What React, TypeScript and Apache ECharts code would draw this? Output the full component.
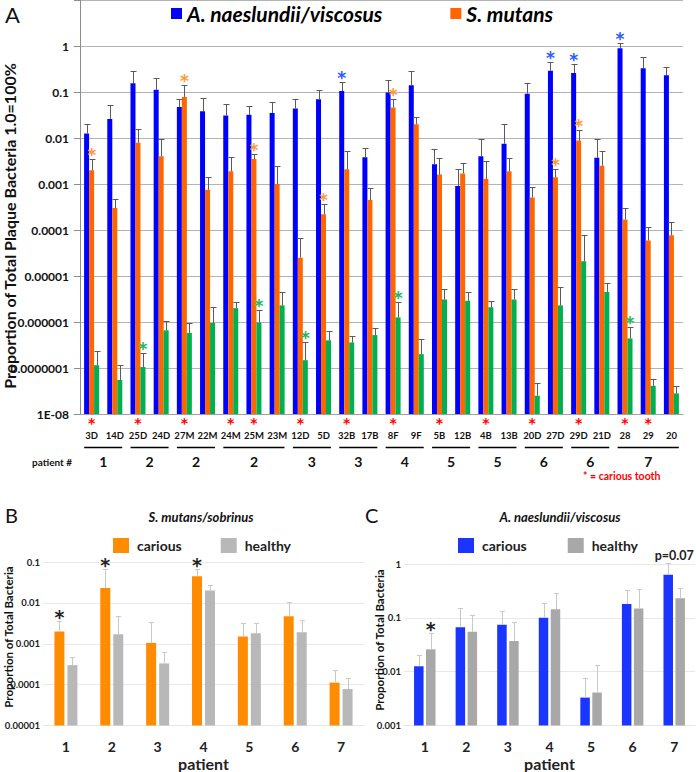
import React, { useEffect, useRef } from 'react';
import * as echarts from 'echarts';

const FONT = 'Lato, "Open Sans", "DejaVu Sans", sans-serif';
const STAR_FONT = '"DejaVu Sans", sans-serif';

// ---------- Panel A ----------
const teeth = ['3D', '14D', '25D', '24D', '27M', '22M', '24M', '25M', '23M', '12D', '5D', '32B', '17B', '8F', '9F', '5B', '12B', '4B', '13B', '20D', '27D', '29D', '21D', '28', '29', '20'];
const cariousTeeth = ['3D', '25D', '27M', '24M', '25M', '12D', '32B', '8F', '5B', '4B', '20D', '29D', '28', '29'];
const naeslundii = [0.0126, 0.026, 0.155, 0.112, 0.047, 0.038, 0.031, 0.032, 0.035, 0.044, 0.07, 0.105, 0.0038, 0.097, 0.14, 0.0027, 0.00091, 0.004, 0.0075, 0.092, 0.29, 0.26, 0.0037, 0.89, 0.33, 0.23];
const naeslundiiErr = [0.0205, 0.051, 0.29, 0.2, 0.072, 0.074, 0.054, 0.05, 0.062, 0.069, 0.108, 0.165, 0.0062, 0.186, 0.28, 0.0057, 0.0021, 0.0097, 0.0205, 0.155, 0.46, 0.41, 0.0094, 1.17, 0.57, 0.35];
const mutans = [0.002, 0.0003, 0.0079, 0.004, 0.078, 0.00075, 0.0019, 0.0035, 0.001, 0.000025, 0.00022, 0.0021, 0.00045, 0.046, 0.02, 0.0016, 0.0017, 0.0013, 0.0019, 0.00051, 0.0014, 0.0088, 0.0025, 0.00017, 0.000059, 0.000077];
const mutansErr = [0.0035, 0.00048, 0.016, 0.0094, 0.143, 0.0014, 0.0038, 0.0045, 0.0025, 0.000068, 0.00037, 0.0052, 0.00081, 0.069, 0.028, 0.0036, 0.0028, 0.0031, 0.0036, 0.00088, 0.0021, 0.0146, 0.0051, 0.0003, 0.000115, 0.000146];
const sobrinus = [1.15e-7, 5.5e-8, 1.05e-7, 6.6e-7, 5.8e-7, 9.5e-7, 2.0e-6, 9.7e-7, 2.3e-6, 1.48e-7, 4.0e-7, 3.6e-7, 5.2e-7, 1.26e-6, 2.0e-7, 3.1e-6, 2.9e-6, 2.1e-6, 3.1e-6, 2.5e-8, 2.3e-6, 2.1e-5, 4.5e-6, 4.4e-7, 4.1e-8, 2.8e-8];
const sobrinusErr = [2.4e-7, 1.15e-7, 2.1e-7, 1.07e-6, 9.5e-7, 2.1e-6, 2.7e-6, 1.8e-6, 4.4e-6, 3.6e-7, 6.3e-7, 5.0e-7, 7.5e-7, 2.7e-6, 4.3e-7, 5.1e-6, 4.6e-6, 2.8e-6, 5.1e-6, 4.7e-8, 5.9e-6, 7.9e-5, 7.1e-6, 7.6e-7, 5.9e-8, 4.0e-8];
const starsNaeslundii = ['32B', '27D', '29D', '28'];
const starsMutans = ['3D', '27M', '25M', '5D', '8F', '27D', '29D'];
const starsSobrinus = ['25D', '25M', '12D', '8F', '28'];
const groupPatients = ['1', '2', '2', '2', '3', '3', '4', '5', '5', '6', '6', '7'];
const groupFirst = ['3D', '25D', '27M', '24M', '12D', '32B', '8F', '5B', '4B', '20D', '29D', '28'];
const groupLast = ['14D', '24D', '22M', '23M', '5D', '17B', '9F', '12B', '13B', '27D', '21D', '20'];

// ---------- Panel B ----------
const patients = ['1', '2', '3', '4', '5', '6', '7'];
const mutansCarious = [0.002, 0.023, 0.00105, 0.045, 0.0015, 0.0047, 0.000112];
const mutansCariousErr = [0.0036, 0.069, 0.0034, 0.069, 0.0032, 0.0104, 0.00023];
const mutansHealthy = [0.0003, 0.0017, 0.00033, 0.02, 0.0018, 0.0019, 0.000078];
const mutansHealthyErr = [0.00048, 0.0047, 0.00062, 0.028, 0.0032, 0.0039, 0.000149];
const starsMutansCarious = ['1', '2', '4'];

// ---------- Panel C ----------
const naesCarious = [0.0126, 0.067, 0.074, 0.1, 0.0033, 0.18, 0.63];
const naesCariousErr = [0.0206, 0.151, 0.134, 0.19, 0.0076, 0.33, 1.03];
const naesHealthy = [0.026, 0.055, 0.037, 0.145, 0.0041, 0.149, 0.23];
const naesHealthyErr = [0.052, 0.114, 0.082, 0.29, 0.0135, 0.34, 0.36];
const starsNaesHealthy = ['1'];
const pValuePatient = '7';
const pValueText = 'p=0.07';

const fmtLog = (v: number) => {
  const e = Math.round(Math.log10(v));
  if (e > 0) return '';
  if (e === 0) return '1';
  if (e <= -8) return '1E-0' + -e;
  return Math.pow(10, e).toFixed(-e);
};

function errorSeries(axis: number, vals: number[], errs: number[], offset: number, color: string, cap: number) {
  return {
    type: 'custom',
    xAxisIndex: axis,
    yAxisIndex: axis,
    silent: true,
    clip: false,
    z: 3,
    data: vals.map((v, i) => [i, v, errs[i]]),
    renderItem: (params: any, api: any) => {
      const base = api.coord([api.value(0), api.value(1)]);
      const top = api.coord([api.value(0), api.value(2)]);
      const x = Math.round(base[0] + offset) + 0.5;
      const yt = Math.round(top[1]) + 0.5;
      return {
        type: 'group',
        children: [
          { type: 'line', shape: { x1: x, y1: base[1], x2: x, y2: yt }, style: { stroke: color, lineWidth: 1 } },
          { type: 'line', shape: { x1: x - cap, y1: yt, x2: x + cap, y2: yt }, style: { stroke: color, lineWidth: 1 } },
        ],
      };
    },
  };
}

function starSeries(axis: number, cats: string[], catList: string[], tops: number[], offset: number, color: string, text: string, fontSize: number, dy: number, family = STAR_FONT) {
  return {
    type: 'custom',
    xAxisIndex: axis,
    yAxisIndex: axis,
    silent: true,
    clip: false,
    z: 4,
    data: cats.map((c) => {
      const i = catList.indexOf(c);
      return [i, tops[i]];
    }),
    renderItem: (params: any, api: any) => {
      const p = api.coord([api.value(0), api.value(1)]);
      return {
        type: 'text',
        x: p[0] + offset,
        y: p[1] + dy,
        style: {
          text,
          fill: color,
          fontSize,
          fontWeight: 'bold',
          fontFamily: family,
          align: 'center',
          verticalAlign: 'middle',
        },
      };
    },
  };
}

const maxOf = (a: number[], b: number[]) => a.map((v, i) => Math.max(v, b[i]));

function buildOption() {
  const yMinA = 1e-8;
  const titleStyle = { fontFamily: FONT, fontWeight: 'bold', fill: '#111' };
  return {
    animation: false,
    textStyle: { fontFamily: FONT },
    grid: [
      { left: 80, right: 13, top: -9, bottom: 358 },
      { left: 43, right: 332, top: 562, bottom: 45 },
      { left: 404, right: 1, top: 564, bottom: 45 },
    ],
    legend: [
      {
        data: ['A. naeslundii/viscosus', 'S. mutans'],
        left: 171, top: 3, padding: 0, icon: 'rect', itemWidth: 11, itemHeight: 11, itemGap: 68,
        selectedMode: false,
        textStyle: { fontSize: 21, fontWeight: 'bold', fontStyle: 'italic', color: '#000', fontFamily: FONT },
      },
      {
        data: ['carious|B', 'healthy|B'],
        left: 113, top: 538, padding: 0, icon: 'rect', itemWidth: 16, itemHeight: 15, itemGap: 39,
        selectedMode: false,
        formatter: (n: string) => n.split('|')[0],
        textStyle: { fontSize: 14, fontWeight: 'bold', color: '#222', fontFamily: FONT, padding: [0, 0, 0, 3] },
      },
      {
        data: ['carious|C', 'healthy|C'],
        left: 458, top: 538, padding: 0, icon: 'rect', itemWidth: 16, itemHeight: 15, itemGap: 41,
        selectedMode: false,
        formatter: (n: string) => n.split('|')[0],
        textStyle: { fontSize: 14, fontWeight: 'bold', color: '#222', fontFamily: FONT, padding: [0, 0, 0, 3] },
      },
    ],
    xAxis: [
      {
        gridIndex: 0, type: 'category', data: teeth,
        axisLine: { lineStyle: { color: '#a0a0a0' } },
        axisTick: { show: false },
        axisLabel: { interval: 0, margin: 16, fontSize: 9.5, fontWeight: 'bold', color: '#111' },
      },
      {
        gridIndex: 1, type: 'category', data: patients,
        axisLine: { show: true, lineStyle: { color: '#e6e6e6' } },
        axisTick: { show: false },
        axisLabel: { fontSize: 14, fontWeight: 'bold', color: '#222', margin: 14 },
        name: 'patient', nameLocation: 'middle', nameGap: 29.5,
        nameTextStyle: { fontSize: 16, fontWeight: 'bold', color: '#222' },
      },
      {
        gridIndex: 2, type: 'category', data: patients,
        axisLine: { show: true, lineStyle: { color: '#e6e6e6' } },
        axisTick: { show: false },
        axisLabel: { fontSize: 14, fontWeight: 'bold', color: '#222', margin: 14 },
        name: 'patient', nameLocation: 'middle', nameGap: 29.5,
        nameTextStyle: { fontSize: 16, fontWeight: 'bold', color: '#222' },
      },
    ],
    yAxis: [
      {
        gridIndex: 0, type: 'log', logBase: 10, min: yMinA, max: 10, startValue: yMinA,
        axisLine: { show: true, lineStyle: { color: '#8c8c8c' } },
        axisTick: { show: true, length: 6, lineStyle: { color: '#8c8c8c' } },
        splitLine: { show: true, lineStyle: { color: '#b4b4b4' } },
        axisLabel: { formatter: fmtLog, fontSize: 12, fontWeight: 'bold', color: '#111', margin: 11 },
      },
      {
        gridIndex: 1, type: 'log', logBase: 10, min: 1e-5, max: 0.1, startValue: 1e-5,
        axisLine: { show: false }, axisTick: { show: false },
        splitLine: { show: true, lineStyle: { color: '#e8e8e8' } },
        axisLabel: { formatter: fmtLog, fontSize: 9.5, fontWeight: 'bold', color: '#222', margin: 3 },
      },
      {
        gridIndex: 2, type: 'log', logBase: 10, min: 0.001, max: 1, startValue: 0.001,
        axisLine: { show: false }, axisTick: { show: false },
        splitLine: { show: true, lineStyle: { color: '#e8e8e8' } },
        axisLabel: { formatter: fmtLog, fontSize: 9.5, fontWeight: 'bold', color: '#222', margin: 3 },
      },
    ],
    series: [
      { type: 'bar', name: 'A. naeslundii/viscosus', xAxisIndex: 0, yAxisIndex: 0, data: naeslundii, barWidth: 5, barGap: '0%', itemStyle: { color: '#0000ff' } },
      { type: 'bar', name: 'S. mutans', xAxisIndex: 0, yAxisIndex: 0, data: mutans, barWidth: 5, barGap: '0%', itemStyle: { color: '#ff6600' } },
      { type: 'bar', name: 'S. sobrinus', xAxisIndex: 0, yAxisIndex: 0, data: sobrinus, barWidth: 5, barGap: '0%', itemStyle: { color: '#00b050' } },
      errorSeries(0, naeslundii, naeslundiiErr, -5, '#5a5a5a', 3),
      errorSeries(0, mutans, mutansErr, 0, '#5a5a5a', 3),
      errorSeries(0, sobrinus, sobrinusErr, 5, '#5a5a5a', 3),
      starSeries(0, starsNaeslundii, teeth, naeslundiiErr, -5, '#2a5cff', '*', 17, -4),
      starSeries(0, starsMutans, teeth, mutansErr, 0, '#ff9a30', '*', 17, -4),
      starSeries(0, starsSobrinus, teeth, sobrinusErr, 5, '#22b85a', '*', 17, -4),
      // carious-tooth markers under the tooth labels
      starSeries(0, cariousTeeth, teeth, teeth.map(() => yMinA), 0, '#ff0000', '*', 14, 9),
      {
        type: 'custom', xAxisIndex: 0, yAxisIndex: 0, silent: true, clip: false, z: 5,
        data: groupPatients.map((p, i) => [teeth.indexOf(groupFirst[i]), teeth.indexOf(groupLast[i])]),
        renderItem: (params: any, api: any) => {
          const a = api.coord([api.value(0), yMinA]);
          const b = api.coord([api.value(1), yMinA]);
          const band = api.coord([1, yMinA])[0] - api.coord([0, yMinA])[0];
          const half = band * 0.32;
          const y = a[1] + 33.5;
          return {
            type: 'group',
            children: [
              { type: 'line', shape: { x1: a[0] - half, y1: y, x2: b[0] + half, y2: y }, style: { stroke: '#000', lineWidth: 1.5 } },
              {
                type: 'text', x: (a[0] + b[0]) / 2, y: y + 13.5,
                style: { text: groupPatients[params.dataIndex], fill: '#111', fontSize: 14, fontWeight: 'bold', fontFamily: FONT, align: 'center', verticalAlign: 'middle' },
              },
            ],
          };
        },
      },
      // Panel B
      { type: 'bar', name: 'carious|B', xAxisIndex: 1, yAxisIndex: 1, data: mutansCarious, barWidth: 10, barGap: '30%', itemStyle: { color: '#ff8c00' } },
      { type: 'bar', name: 'healthy|B', xAxisIndex: 1, yAxisIndex: 1, data: mutansHealthy, barWidth: 10, barGap: '30%', itemStyle: { color: '#b8b8b8' } },
      errorSeries(1, mutansCarious, mutansCariousErr, -6.5, '#c9c9c9', 2.5),
      errorSeries(1, mutansHealthy, mutansHealthyErr, 6.5, '#c9c9c9', 2.5),
      starSeries(1, starsMutansCarious, patients, mutansCariousErr, -6.5, '#222', '*', 19, -4),
      // Panel C
      { type: 'bar', name: 'carious|C', xAxisIndex: 2, yAxisIndex: 2, data: naesCarious, barWidth: 9.5, barGap: '26%', itemStyle: { color: '#1a35ff' } },
      { type: 'bar', name: 'healthy|C', xAxisIndex: 2, yAxisIndex: 2, data: naesHealthy, barWidth: 9.5, barGap: '26%', itemStyle: { color: '#a8a8a8' } },
      errorSeries(2, naesCarious, naesCariousErr, -6, '#c9c9c9', 2.5),
      errorSeries(2, naesHealthy, naesHealthyErr, 6, '#c9c9c9', 2.5),
      starSeries(2, starsNaesHealthy, patients, naesHealthyErr, 6, '#222', '*', 19, -4),
      starSeries(2, [pValuePatient], patients, maxOf(naesCariousErr, naesHealthyErr), 0, '#222', pValueText, 12.5, -8, FONT),
    ],
    graphic: [
      { type: 'text', x: 5, y: 14, style: { text: 'A', fontSize: 22, fontFamily: FONT, fill: '#111', verticalAlign: 'middle' } },
      { type: 'text', x: 9, y: 226, rotation: Math.PI / 2, style: { ...titleStyle, text: 'Proportion of Total Plaque Bacteria 1.0=100%', fontSize: 16, align: 'center', verticalAlign: 'middle' } },
      { type: 'text', x: 52, y: 462, style: { ...titleStyle, text: 'patient #', fontSize: 10, align: 'center', verticalAlign: 'middle' } },
      { type: 'text', x: 583, y: 475.5, style: { ...titleStyle, text: '* = carious tooth', fontSize: 10.5, fill: '#ff0000', align: 'left', verticalAlign: 'middle' } },
      { type: 'text', x: 5, y: 515, style: { text: 'B', fontSize: 20, fontFamily: FONT, fill: '#111', verticalAlign: 'middle' } },
      { type: 'text', x: 201, y: 517, style: { ...titleStyle, text: 'S. mutans/sobrinus', fontSize: 13, fontStyle: 'italic', align: 'center', verticalAlign: 'middle' } },
      { type: 'text', x: 365, y: 515, style: { text: 'C', fontSize: 20, fontFamily: FONT, fill: '#111', verticalAlign: 'middle' } },
      { type: 'text', x: 560, y: 517, style: { ...titleStyle, text: 'A. naeslundii/viscosus', fontSize: 13, fontStyle: 'italic', align: 'center', verticalAlign: 'middle' } },
      { type: 'text', x: 8, y: 637, rotation: Math.PI / 2, style: { ...titleStyle, text: 'Proportion of Total Bacteria', fontSize: 11.5, align: 'center', verticalAlign: 'middle' } },
      { type: 'text', x: 379, y: 640, rotation: Math.PI / 2, style: { ...titleStyle, text: 'Proportion of Total Bacteria', fontSize: 11.5, align: 'center', verticalAlign: 'middle' } },
    ],
  };
}

export default function App() {
  const ref = useRef<HTMLDivElement>(null);
  useEffect(() => {
    const chart = echarts.init(ref.current as HTMLDivElement, null, { renderer: 'svg' });
    chart.setOption(buildOption() as any);
    return () => chart.dispose();
  }, []);
  return <div ref={ref} style={{ position: 'fixed', left: 0, top: 0, width: 696, height: 772, background: '#fff' }} />;
}
